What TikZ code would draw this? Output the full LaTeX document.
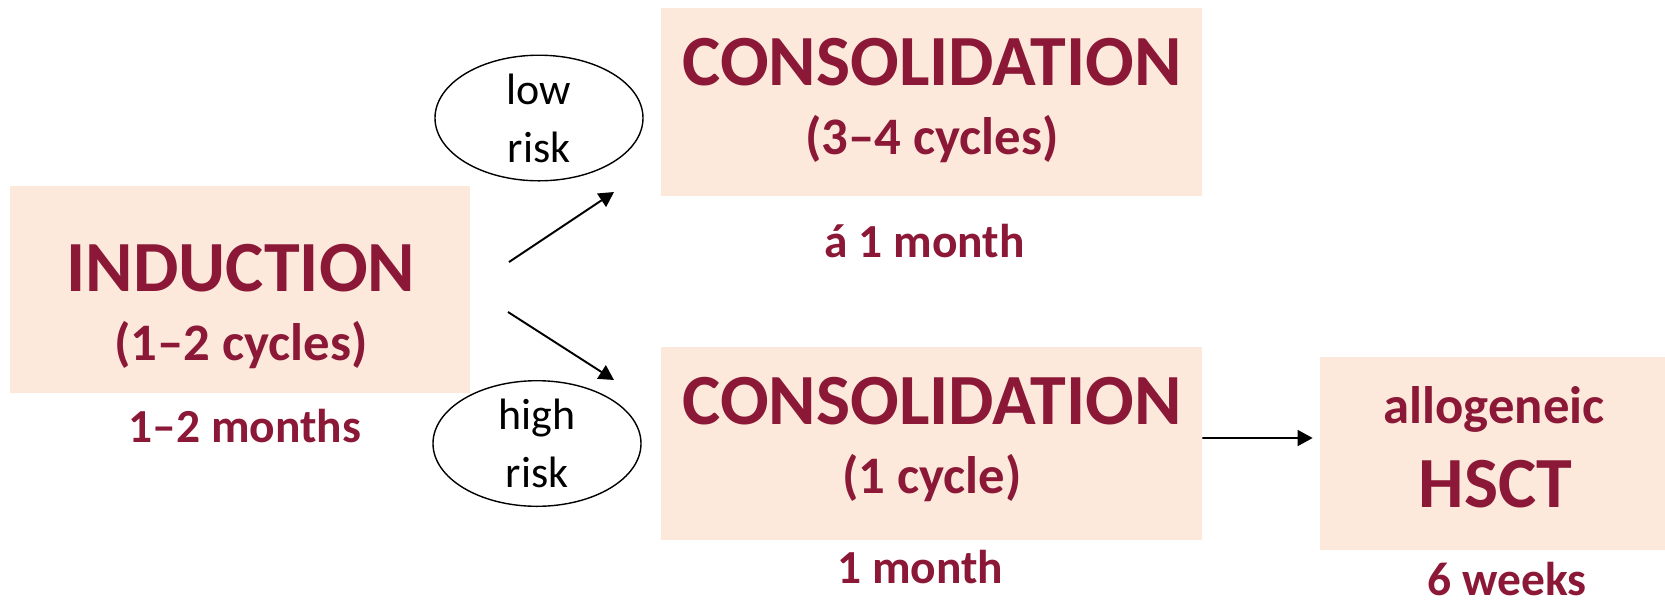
\documentclass[tikz,border=0pt]{standalone}
\usepackage{fontspec}
\setmainfont{Carlito}
\usetikzlibrary{arrows.meta,shapes.geometric}
\definecolor{wine}{RGB}{139,24,54}
\definecolor{peach}{RGB}{252,233,219}
\begin{document}
\begin{tikzpicture}[
	phase/.style={fill=peach,draw=none,inner sep=0pt},
	big/.style={wine,anchor=base,inner sep=0pt,font=\bfseries\fontsize{41}{49}\selectfont},
	mid/.style={wine,anchor=base,inner sep=0pt,font=\bfseries\fontsize{30}{36}\selectfont},
	dur/.style={wine,anchor=base,inner sep=0pt,font=\bfseries\fontsize{27}{32}\selectfont},
	risk/.style={ellipse,draw,line width=0.8pt,fill=white,minimum width=4.16cm,minimum height=2.16cm,inner sep=0pt,align=center,font=\fontsize{25}{33}\selectfont},
	arr/.style={-{Triangle[length=8.5pt,width=9pt]},line width=1.1pt}]
	\useasboundingbox (0,0) rectangle (33.3,-12.14);
	% phase boxes
	\node[phase,minimum width=9.19cm,minimum height=4.14cm] (ind) at (4.80,-5.79) {};
	\node[phase,minimum width=10.82cm,minimum height=3.76cm] (cons1) at (18.63,-2.03) {};
	\node[phase,minimum width=10.82cm,minimum height=3.86cm] (cons2) at (18.63,-8.87) {};
	\node[phase,minimum width=6.9cm,minimum height=3.86cm] (hsct) at (29.85,-9.07) {};
	% box texts
	\node[big] (indT) at (4.82,-5.82) {INDUCTION};
	\node[mid] (indC) at (4.82,-7.20) {(1–2 cycles)};
	\node[dur] (indD) at (4.90,-8.84) {1–2 months};
	\node[big] (cons1T) at (18.64,-1.70) {CONSOLIDATION};
	\node[mid] (cons1C) at (18.64,-3.08) {(3–4 cycles)};
	\node[dur] (cons1D) at (18.49,-5.14) {á 1 month};
	\node[big] (cons2T) at (18.64,-8.48) {CONSOLIDATION};
	\node[mid] (cons2C) at (18.64,-9.86) {(1 cycle)};
	\node[dur] (cons2D) at (18.41,-11.66) {1 month};
	\node[mid] (hsctA) at (29.88,-8.46) {allogeneic};
	\node[big] (hsctT) at (29.91,-10.14) {HSCT};
	\node[dur] (hsctD) at (30.14,-11.90) {6 weeks};
	% risk groups
	\node[risk] (low) at (10.78,-2.36) {low\\risk};
	\node[risk] (high) at (10.74,-8.87) {high\\risk};
	% arrows
	\coordinate (upA) at (10.18,-5.24);
	\coordinate (upB) at (12.28,-3.84);
	\coordinate (dnA) at (10.16,-6.24);
	\coordinate (dnB) at (12.28,-7.60);
	\draw[arr] (upA) -- (upB);
	\draw[arr] (dnA) -- (dnB);
	\draw[arr] ([yshift=0.11cm]cons2.east) -- ([xshift=-0.14cm,yshift=0.31cm]hsct.west);
\end{tikzpicture}
\end{document}
